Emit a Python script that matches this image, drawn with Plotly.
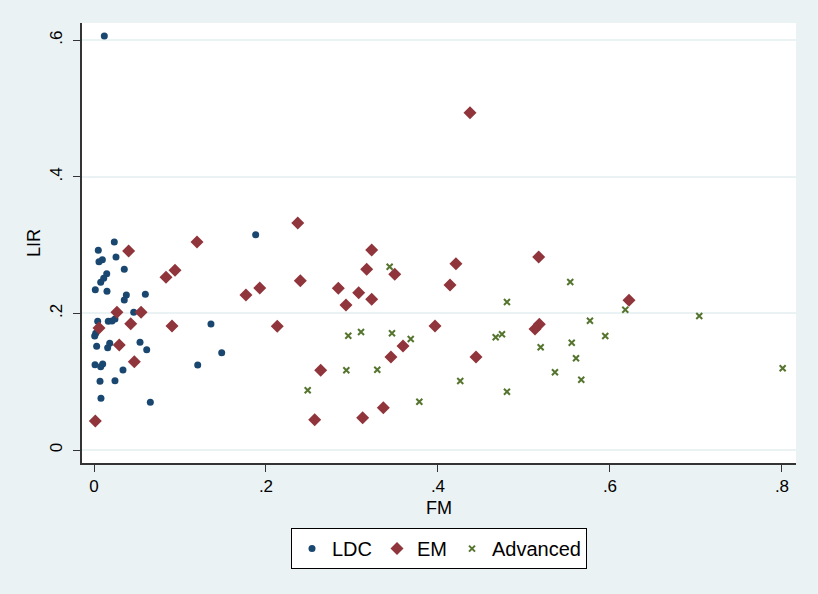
import plotly.graph_objects as go

# ---- data ----
ldc_fm = [0.0236, 0.0050, 0.0256, 0.0097, 0.0058, 0.0352, 0.0148, 0.0113, 0.0078, 0.0015,
          0.0151, 0.0376, 0.0352, 0.0597, 0.0462, 0.0043, 0.0166, 0.0209, 0.0244, 0.0020,
          0.0008, 0.1360, 0.0031, 0.0159, 0.0183, 0.0535, 0.0613, 0.1485, 0.0012, 0.0078,
          0.0101, 0.0337, 0.1206, 0.0070, 0.0244, 0.0081, 0.0655, 0.1880, 0.0120]
ldc_lir = [0.3045, 0.2924, 0.2826, 0.2786, 0.2757, 0.2646, 0.2581, 0.2514, 0.2455, 0.2347,
           0.2324, 0.2269, 0.2196, 0.2280, 0.2016, 0.1884, 0.1884, 0.1889, 0.1918, 0.1709,
           0.1669, 0.1845, 0.1518, 0.1498, 0.1562, 0.1577, 0.1468, 0.1425, 0.1249, 0.1220,
           0.1259, 0.1171, 0.1245, 0.1006, 0.1015, 0.0757, 0.0698, 0.3152, 0.6060]

em_fm = [0.0403, 0.1198, 0.0837, 0.0942, 0.1767, 0.1927, 0.0267, 0.0547, 0.0058, 0.0427,
         0.0907, 0.2131, 0.0294, 0.0469, 0.0015, 0.2369, 0.3229, 0.3171, 0.3497, 0.2399,
         0.2841, 0.3078, 0.3229, 0.2930, 0.3593, 0.3453, 0.2636, 0.3364, 0.3124, 0.2566,
         0.4372, 0.4209, 0.5171, 0.4140, 0.6221, 0.3965, 0.5178, 0.5128, 0.4442]
em_lir = [0.2914, 0.3045, 0.2529, 0.2631, 0.2269, 0.2372, 0.2016, 0.2016, 0.1786, 0.1849,
          0.1816, 0.1811, 0.1537, 0.1293, 0.0425, 0.3324, 0.2928, 0.2646, 0.2572, 0.2479,
          0.2367, 0.2303, 0.2206, 0.2123, 0.1523, 0.1362, 0.1167, 0.0619, 0.0473, 0.0444,
          0.4939, 0.2728, 0.2826, 0.2416, 0.2192, 0.1816, 0.1840, 0.1772, 0.1362]

adv_fm = [0.3438, 0.2957, 0.3105, 0.3465, 0.3683, 0.2934, 0.3294, 0.2485, 0.3783, 0.5538,
          0.4802, 0.5767, 0.6178, 0.5945, 0.4671, 0.4744, 0.5194, 0.5555, 0.5605, 0.5360,
          0.5666, 0.4259, 0.4802, 0.7038, 0.8008]
adv_lir = [0.2684, 0.1673, 0.1728, 0.1709, 0.1625, 0.1167, 0.1176, 0.0874, 0.0707, 0.2460,
           0.2167, 0.1893, 0.2054, 0.1669, 0.1650, 0.1694, 0.1504, 0.1571, 0.1343, 0.1138,
           0.1029, 0.1010, 0.0854, 0.1962, 0.1196]

x_ticks = [0, 0.2, 0.4, 0.6, 0.8]
x_tick_labels = ["0", ".2", ".4", ".6", ".8"]
y_ticks = [0, 0.2, 0.4, 0.6]
y_tick_labels = ["0", ".2", ".4", ".6"]

FONT = "Arial, Liberation Sans, sans-serif"
AXIS = "#333333"

fig = go.Figure()
fig.add_trace(go.Scatter(x=ldc_fm, y=ldc_lir, mode="markers", name="LDC",
                         marker=dict(symbol="circle", size=7, color="#1A476F")))
fig.add_trace(go.Scatter(x=em_fm, y=em_lir, mode="markers", name="EM",
                         marker=dict(symbol="diamond", size=10, color="#90353B")))
fig.add_trace(go.Scatter(x=adv_fm, y=adv_lir, mode="markers", name="Advanced",
                         marker=dict(symbol="x-thin", size=6, color="#55752F",
                                     line=dict(color="#55752F", width=2))))

fig.update_layout(
    width=818, height=594,
    margin=dict(l=82, r=22, t=23, b=131),
    paper_bgcolor="#EAF2F3",
    plot_bgcolor="white",
    font=dict(family=FONT, color="black", size=17),
    showlegend=True,
    legend=dict(orientation="h", x=0.5, xanchor="center", y=-0.148, yanchor="top",
                bgcolor="white", bordercolor="black", borderwidth=1,
                font=dict(size=20), itemsizing="trace", itemwidth=30),
)
fig.update_xaxes(range=[-0.01395, 0.8163], tickvals=x_ticks, ticktext=x_tick_labels,
                 showgrid=False, zeroline=False, showline=True, linecolor=AXIS,
                 linewidth=1.5, ticks="outside", ticklen=7, tickcolor=AXIS,
                 tickfont=dict(size=17), title=dict(text="FM", font=dict(size=18), standoff=6))
fig.update_yaxes(range=[-0.019, 0.6252], tickvals=y_ticks, ticktext=y_tick_labels,
                 showgrid=True, gridcolor="#EAF2F3", gridwidth=1.5, zeroline=False,
                 showline=True, linecolor=AXIS, linewidth=1.5, ticks="outside",
                 ticklen=7, tickcolor=AXIS, tickangle=-90, ticklabelstandoff=4,
                 tickfont=dict(size=17), title=dict(text="LIR", font=dict(size=18), standoff=2))

fig.write_html("out.html", config={"displayModeBar": False},
               post_script="document.body.style.margin='0';document.body.style.overflow='hidden';")
